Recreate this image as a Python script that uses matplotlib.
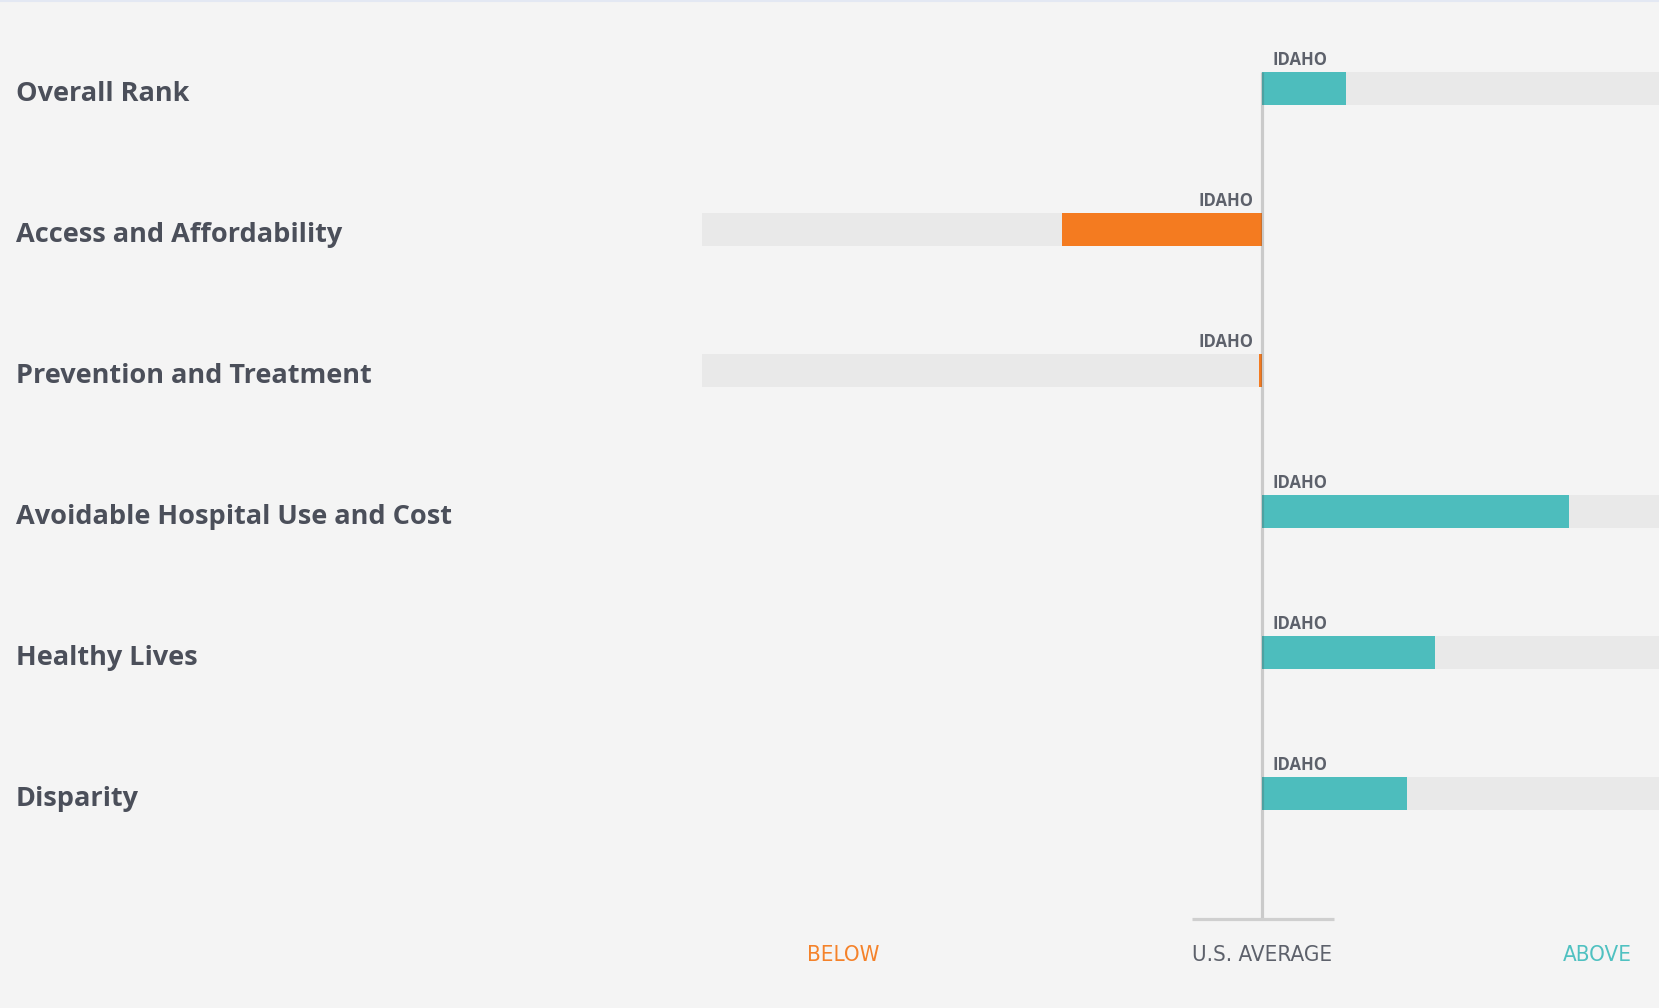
import matplotlib.pyplot as plt
from matplotlib.lines import Line2D

# Idaho vs. U.S. average, share of the full scale (negative = below average)
categories = [
    "Overall Rank",
    "Access and Affordability",
    "Prevention and Treatment",
    "Avoidable Hospital Use and Cost",
    "Healthy Lives",
    "Disparity",
]
scores = [0.15, -0.357, -0.005, 0.548, 0.309, 0.259]
state_label = "IDAHO"
axis_labels = ["BELOW", "U.S. AVERAGE", "ABOVE"]

BG = "#f4f4f4"
TRACK = "#e9e9e9"
TEAL = "#4dbdbd"
ORANGE = "#f47b20"
TEXT = "#4b4f5a"
SUB = "#5d616b"

W, H = 1659, 1008
CENTER_PX, HALF_PX = 1262, 560
ROW0_PX, ROW_STEP_PX = 88.5, 141

fig = plt.figure(figsize=(W / 100, H / 100), dpi=100, facecolor=BG)
ax = fig.add_axes([0, 0, 1, 1])
ax.set_facecolor(BG)
ax.set_xlim(-CENTER_PX / HALF_PX, (W - CENTER_PX) / HALF_PX)
ax.set_ylim((H - ROW0_PX) / ROW_STEP_PX, -ROW0_PX / ROW_STEP_PX)
ax.axis("off")

bar_h = 33 / ROW_STEP_PX
rows = range(len(categories))

# background tracks on the side each score falls
tracks = [1 if s > 0 else -1 for s in scores]
ax.barh(rows, tracks, height=bar_h, color=TRACK, zorder=1)
colors = [TEAL if s > 0 else ORANGE for s in scores]
ax.barh(rows, scores, height=bar_h, color=colors, zorder=2)

# U.S. average marker
top = -bar_h / 2
bottom = (919 - ROW0_PX) / ROW_STEP_PX
ax.vlines(0, top, bottom, color="#505050", alpha=0.25, lw=2.3, zorder=3)
ax.hlines(bottom, -0.125, 0.128, color="#cfcfcf", lw=2.3, zorder=3)

for i, (cat, s) in enumerate(zip(categories, scores)):
    fig.text(16 / W, 1 - (ROW0_PX + 5.5 + i * ROW_STEP_PX) / H, cat,
             fontsize=19.5, fontweight="bold", family="Open Sans", color=TEXT,
             ha="left", va="center")
    label_y = i - bar_h / 2 - 7 / ROW_STEP_PX
    if s > 0:
        ax.text(10 / HALF_PX, label_y, state_label, ha="left", va="baseline",
                fontsize=12, fontweight="bold", family="Open Sans", color=SUB)
    else:
        ax.text(-9 / HALF_PX, label_y, state_label, ha="right", va="baseline",
                fontsize=12, fontweight="bold", family="Open Sans", color=SUB)

label_y = (955 - ROW0_PX) / ROW_STEP_PX
label_x = [(843 - CENTER_PX) / HALF_PX, 0, (1597 - CENTER_PX) / HALF_PX]
label_c = ["#f4822a", SUB, "#4fc1c1"]
for x, txt, c in zip(label_x, axis_labels, label_c):
    ax.text(x, label_y, txt, ha="center", va="center", fontsize=16,
            color=c, family="DejaVu Sans", fontstretch="condensed")

# thin rule along the top edge
fig.add_artist(Line2D([0, 1], [1 - 0.5 / H, 1 - 0.5 / H], color="#e3e8f3",
                      lw=1.5, transform=fig.transFigure))

fig.savefig("out.png", dpi=100, facecolor=BG)
